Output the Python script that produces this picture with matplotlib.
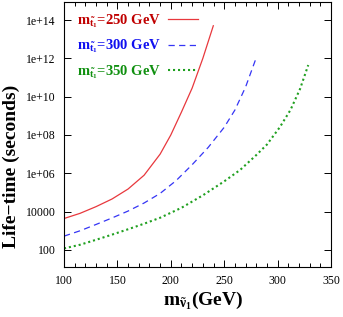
import numpy as np
import matplotlib
matplotlib.use("Agg")
import matplotlib.pyplot as plt
from matplotlib.ticker import MultipleLocator, FixedLocator

plt.rcParams["font.family"] = ["Liberation Serif", "DejaVu Serif"]
plt.rcParams["mathtext.fontset"] = "custom"
plt.rcParams["mathtext.rm"] = "Liberation Serif:bold"
plt.rcParams["mathtext.bf"] = "Liberation Serif:bold"
plt.rcParams["mathtext.it"] = "Liberation Serif:bold"

# values: sneutrino mass (GeV) and log10(life-time / s)
m250_x = [100, 115, 130, 145, 160, 175, 190, 200, 210, 220, 230, 239.8]
m250_logt = [3.64, 3.91, 4.26, 4.66, 5.18, 5.9, 7.0, 8.0, 9.2, 10.45, 12.0, 13.7]

m300_x = [100, 115, 130, 145, 160, 175, 190, 205, 220, 235, 250, 260, 270, 279.8]
m300_logt = [2.72, 3.0, 3.33, 3.67, 4.03, 4.45, 4.95, 5.62, 6.45, 7.35, 8.4, 9.3, 10.5, 12.0]

m350_x = [100, 115, 130, 145, 160, 175, 190, 210, 230, 250, 265, 280, 290, 302, 312, 321, 328.7]
m350_logt = [2.08, 2.27, 2.53, 2.8, 3.08, 3.37, 3.68, 4.2, 4.85, 5.58, 6.18, 6.95, 7.5, 8.4, 9.3,
             10.4, 11.65]

ytick_vals = [1e2, 1e4, 1e6, 1e8, 1e10, 1e12, 1e14]
ytick_labels = ["100", "10000", "1e+06", "1e+08", "1e+10", "1e+12", "1e+14"]

fig = plt.figure(figsize=(3.43, 3.17), dpi=100)
ax = fig.add_axes([64 / 343, 1 - 267 / 317, 267 / 343, 265 / 317])

ax.plot(m250_x, 10 ** np.array(m250_logt), color="#e8383d", linewidth=0.9, linestyle="-",
        label=r"$\mathrm{m}_{\tilde{\mathrm{t}}_1}$=250 GeV")
ax.plot(m300_x, 10 ** np.array(m300_logt), color="#3535f5", linewidth=0.9, linestyle=(0, (5, 3.5)),
        label=r"$\mathrm{m}_{\tilde{\mathrm{t}}_1}$=300 GeV")
ax.plot(m350_x, 10 ** np.array(m350_logt), color="#20a020", linewidth=1.5, linestyle=(0, (1, 1.4)),
        label=r"$\mathrm{m}_{\tilde{\mathrm{t}}_1}$=350 GeV")

ax.set_yscale("log")
ax.set_xlim(100, 350)
ax.set_ylim(10 ** 1.11, 10 ** 14.94)
ax.xaxis.set_major_locator(MultipleLocator(50))
ax.xaxis.set_minor_locator(MultipleLocator(10))
ax.yaxis.set_major_locator(FixedLocator(ytick_vals))
ax.set_yticklabels(ytick_labels)
ax.yaxis.set_minor_locator(FixedLocator([]))
ax.tick_params(which="both", direction="in", top=True, right=True, labelsize=8.5)
ax.tick_params(which="major", length=5, width=0.7)
ax.tick_params(which="minor", length=3, width=0.7)
ax.tick_params(axis="x", pad=6)
ax.tick_params(axis="y", pad=6)
for s in ax.spines.values():
    s.set_linewidth(0.8)

ax.set_ylabel("Life\u2212time (seconds)", fontsize=14, fontweight="bold")
ax.yaxis.set_label_coords(-0.165, 0.38)
ax.set_xlabel(r"$\mathrm{m}_{\tilde{\nu}_1}$(GeV)", fontsize=14, fontweight="bold", labelpad=1)
ax.xaxis.set_label_coords(0.52, -0.085)

leg = ax.legend(loc="upper left", frameon=False, markerfirst=False,
                handlelength=2.0, handletextpad=0.5, labelspacing=0.55,
                borderaxespad=0.3, bbox_to_anchor=(0.01, 1.0),
                prop={"weight": "bold", "size": 10.5})
for t, c in zip(leg.get_texts(), ["#c00000", "#1010f0", "#109010"]):
    t.set_color(c)

fig.savefig("out.png", dpi=100)
